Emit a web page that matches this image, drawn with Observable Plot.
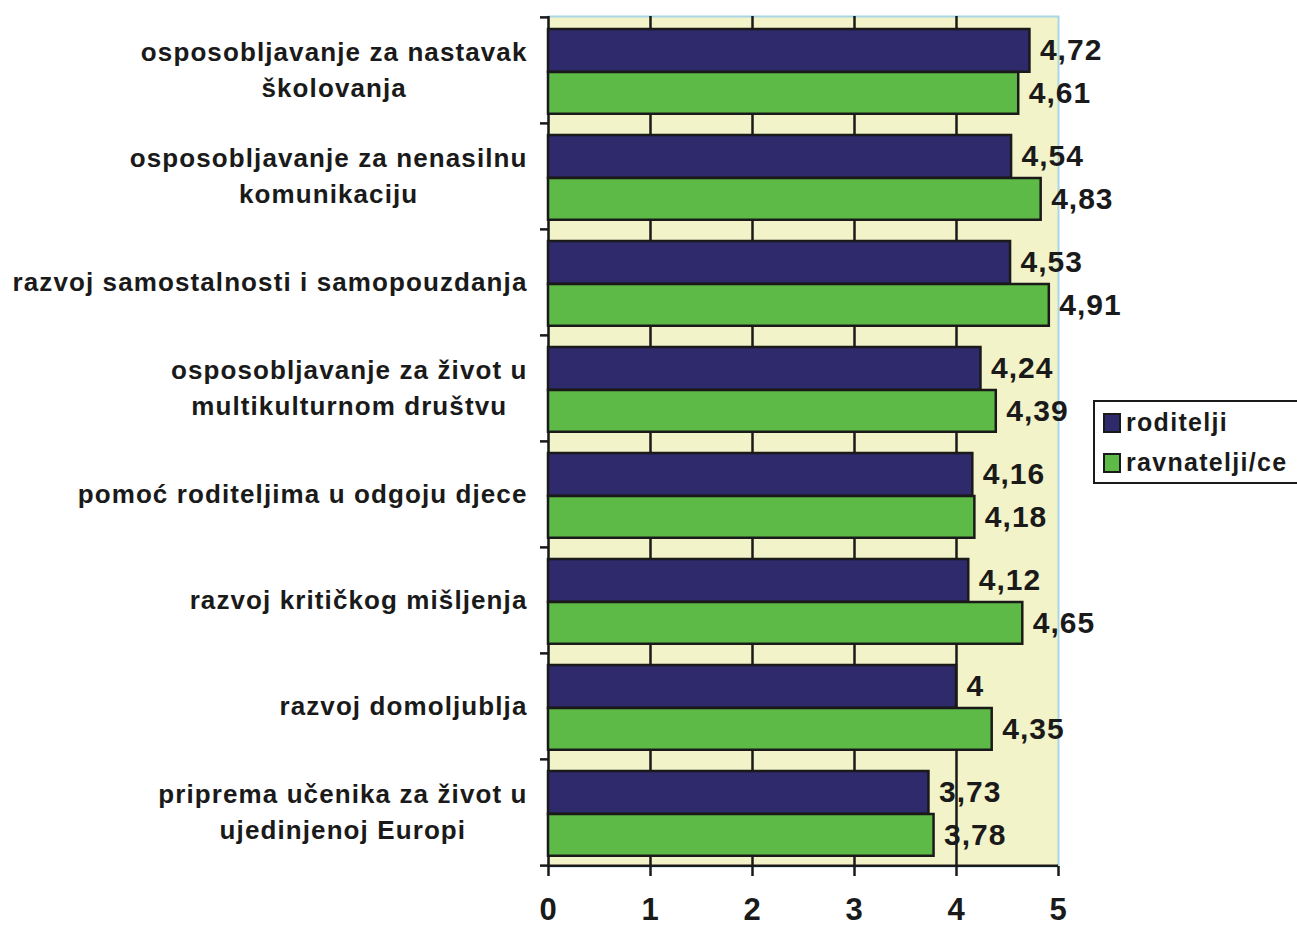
<!DOCTYPE html>
<html>
<head>
<meta charset="utf-8">
<script src="https://cdn.jsdelivr.net/npm/d3@7"></script>
<script src="https://cdn.jsdelivr.net/npm/@observablehq/plot@0.6"></script>
<style>
  html, body { margin: 0; padding: 0; background: #fff; }
  body { font-family: "Liberation Sans", Arial, sans-serif; }
  #wrap { position: relative; width: 1297px; height: 927px; overflow: hidden; }
  #legend { position: absolute; left: 1093px; top: 400px; width: 230px; height: 84px;
    border: 2px solid #1a1a1a; box-sizing: border-box; background: #fff;
    font-weight: bold; font-size: 25px; letter-spacing: 1.3px; color: #1a1a1a; }
  .item { position: absolute; left: 8px; display: flex; align-items: center; }
  .sw { width: 14px; height: 16px; border: 2px solid #1a1a1a; margin-right: 5px; }
</style>
</head>
<body>
<div id="wrap"><div id="chart"></div><div id="legend"></div></div>
<script>
const categories = [
  "osposobljavanje za nastavak\nškolovanja",
  "osposobljavanje za nenasilnu\nkomunikaciju",
  "razvoj samostalnosti i samopouzdanja",
  "osposobljavanje za život u\nmultikulturnom društvu",
  "pomoć roditeljima u odgoju djece",
  "razvoj kritičkog mišljenja",
  "razvoj domoljublja",
  "priprema učenika za život u\nujedinjenoj Europi"
];
const series = ["roditelji", "ravnatelji/ce"];
const roditelji = [4.72, 4.54, 4.53, 4.24, 4.16, 4.12, 4, 3.73];
const ravnatelji = [4.61, 4.83, 4.91, 4.39, 4.18, 4.65, 4.35, 3.78];
const xTicks = [0, 1, 2, 3, 4, 5];
const colors = ["#2e2a6b", "#5eba46"];

const data = categories.flatMap((c, i) => [
  {cat: c, series: series[0], value: roditelji[i]},
  {cat: c, series: series[1], value: ravnatelji[i]}
]);

const W = 1297, H = 927, mT = 16, mB = 61, mL = 548, mR = 239;
const band = (H - mT - mB) / categories.length;
const fmt = d => String(d).replace(".", ",");
const ink = "#1a1a1a";
const font = "Liberation Sans, Arial, sans-serif";

const chart = Plot.plot({
  width: W, height: H,
  marginTop: mT, marginBottom: mB, marginLeft: mL, marginRight: mR,
  style: {fontFamily: font, color: ink, background: "transparent"},
  x: {domain: [xTicks[0], xTicks[xTicks.length - 1]], label: null},
  y: {domain: categories, padding: 0, label: null},
  color: {domain: series, range: colors},
  marks: [
    Plot.frame({fill: "#f3f3c9", stroke: "#a9d6e6", strokeWidth: 2}),
    Plot.ruleX(xTicks.slice(0, -1), {stroke: ink, strokeWidth: 2.5}),
    Plot.barX(data.filter(d => d.series === series[0]), {
      x: "value", y: "cat", fill: "series", stroke: ink, strokeWidth: 2.5,
      insetTop: 12, insetBottom: band - 55
    }),
    Plot.barX(data.filter(d => d.series === series[1]), {
      x: "value", y: "cat", fill: "series", stroke: ink, strokeWidth: 2.5,
      insetTop: 55, insetBottom: band - 97
    }),
    Plot.ruleY([categories[categories.length - 1]], {dy: band / 2, stroke: ink, strokeWidth: 2.5}),
    Plot.axisX({ticks: xTicks, tickSize: 10, tickPadding: 21, fontSize: 31, fontWeight: "bold",
      stroke: ink, strokeWidth: 2.5, tickFormat: d => String(d), label: null}),
    Plot.axisY({tickSize: 0, tickPadding: 21, fontSize: 26, fontWeight: "bold", dy: -3,
      lineHeight: 1.4, tickFormat: d => d, label: null}),
    Plot.axisY({tickSize: 8, dy: -band / 2, tickFormat: () => "", stroke: ink, strokeWidth: 2.5, label: null}),
    Plot.axisY({ticks: [categories[categories.length - 1]], tickSize: 8, dy: band / 2,
      tickFormat: () => "", stroke: ink, strokeWidth: 2.5, label: null}),
    Plot.text(data.filter(d => d.series === series[0]), {
      x: "value", y: "cat", text: d => fmt(d.value), dx: 10, dy: -20,
      textAnchor: "start", fontSize: 30, fontWeight: "bold", fill: ink
    }),
    Plot.text(data.filter(d => d.series === series[1]), {
      x: "value", y: "cat", text: d => fmt(d.value), dx: 10, dy: 23,
      textAnchor: "start", fontSize: 30, fontWeight: "bold", fill: ink
    })
  ]
});
document.getElementById("chart").appendChild(chart);
chart.querySelectorAll("text").forEach(t => t.style.letterSpacing = "1px");
chart.querySelectorAll("g[aria-label='y-axis tick label'] text").forEach(t => {
  t.style.letterSpacing = "1.1px";
  const tsp = t.querySelectorAll("tspan");
  if (tsp.length > 1) {
    const bb = t.getBBox();
    t.setAttribute("text-anchor", "middle");
    tsp.forEach(s => s.setAttribute("x", -bb.width / 2));
  }
});

const legend = document.getElementById("legend");
series.forEach((s, i) => {
  const it = document.createElement("div");
  it.className = "item";
  it.style.top = (6 + i * 40) + "px";
  it.innerHTML = `<span class="sw" style="background:${colors[i]}"></span><span>${s}</span>`;
  legend.appendChild(it);
});
</script>
</body>
</html>
